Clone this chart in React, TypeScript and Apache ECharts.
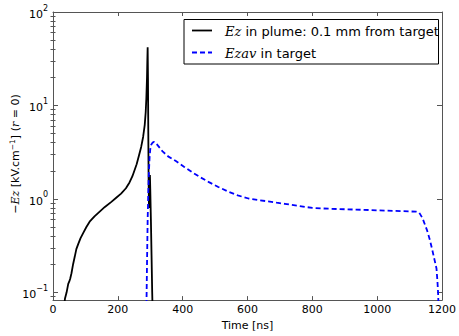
import React, { useEffect, useRef } from "react";
import * as echarts from "echarts";

// ---- Data ----
const xTicks = [0, 200, 400, 600, 800, 1000, 1200];
const yTickExponents = [-1, 0, 1, 2];

// Ez in plume: 0.1 mm from target (time [ns], -Ez [kV/cm])
const plumeTime = [33, 37, 42, 47, 50, 53, 57, 62, 67, 72, 78, 85, 93, 103, 113, 128, 144, 160, 180, 195, 210, 225, 236, 245, 251, 258, 265, 272, 278, 283, 286, 288, 290, 291, 292, 293, 294, 295, 296, 297, 298, 299, 300, 302, 304, 306, 308];
const plumeEz = [0.065, 0.086, 0.1, 0.123, 0.13, 0.14, 0.16, 0.2, 0.24, 0.29, 0.33, 0.38, 0.43, 0.5, 0.57, 0.65, 0.73, 0.82, 0.93, 1.03, 1.14, 1.3, 1.5, 1.75, 2.0, 2.35, 2.9, 3.6, 4.6, 6.2, 8.5, 12, 20, 30, 42, 20, 5, 1.5, 0.85, 0.8, 1.2, 1.8, 1.3, 0.6, 0.25, 0.1, 0.05];

// Ezav in target
const targetTime = [288, 290, 292, 294, 296, 298, 300, 303, 307, 312, 320, 338, 355, 379, 405, 430, 455, 481, 510, 542, 570, 603, 635, 664, 690, 715, 760, 800, 850, 900, 950, 1000, 1050, 1100, 1120, 1130, 1140, 1154, 1162, 1169, 1176, 1183, 1186, 1188, 1190];
const targetEz = [0.06, 0.2, 0.6, 1.2, 2.0, 2.8, 3.4, 3.8, 4.0, 4.07, 3.85, 3.22, 2.85, 2.54, 2.2, 1.92, 1.7, 1.51, 1.34, 1.19, 1.09, 1.01, 0.97, 0.94, 0.91, 0.885, 0.84, 0.8, 0.785, 0.775, 0.765, 0.755, 0.745, 0.735, 0.73, 0.71, 0.62, 0.46, 0.37, 0.295, 0.23, 0.18, 0.13, 0.098, 0.06];

const Y_MIN_LOG = -1.083;
const Y_MAX_LOG = 2;

export default function App() {
  const ref = useRef<HTMLDivElement>(null);

  useEffect(() => {
    if (!ref.current) return;
    const chart = echarts.init(ref.current, undefined, { renderer: "svg" });

    const toLog = (t: number[], v: number[]) => t.map((x, i) => [x, Math.log10(v[i])]);
    const minorTicks: number[] = [];
    for (let n = -2; n <= 1; n++) {
      for (let k = 2; k <= 9; k++) {
        const l = Math.log10(k * Math.pow(10, n));
        if (l > Y_MIN_LOG && l < Y_MAX_LOG) minorTicks.push(l);
      }
    }
    const spine = { show: true, onZero: false, lineStyle: { color: "#555", width: 1 } };
    const font = "DejaVu Sans";
    const tickFs = 11;
    const grid = { left: 53, top: 12, width: 392, height: 298 };

    const xBase = {
      type: "value" as const,
      min: 0,
      max: 1200,
      interval: 200,
      splitLine: { show: false },
      axisLine: spine,
    };
    const yBase = {
      type: "value" as const,
      min: Y_MIN_LOG,
      max: Y_MAX_LOG,
      splitLine: { show: false },
    };

    const supLabel = (v: number) => {
      const e = Math.round(v);
      const s = e < 0 ? "\u2212" + Math.abs(e) : String(e);
      return "{b|10}{s|" + s + "}";
    };

    chart.setOption({
      animation: false,
      backgroundColor: "#ffffff",
      grid,
      xAxis: [
        {
          ...xBase,
          position: "bottom",
          axisTick: { show: true, inside: true, length: 4, lineStyle: { color: "#555" } },
          axisLabel: {
            show: true,
            color: "#000",
            fontFamily: font,
            fontSize: tickFs,
            margin: 4,
            customValues: xTicks,
            formatter: (v: number) => String(v),
          },
          name: "Time [ns]",
          nameLocation: "middle",
          nameGap: 18,
          nameTextStyle: { color: "#000", fontFamily: font, fontSize: tickFs },
        },
        {
          ...xBase,
          position: "top",
          axisTick: { show: true, inside: true, length: 4, lineStyle: { color: "#555" } },
          axisLabel: { show: false },
        },
      ],
      yAxis: [
        {
          ...yBase,
          position: "left",
          axisLine: spine,
          axisTick: { show: true, inside: true, length: 5, customValues: yTickExponents, lineStyle: { color: "#555" } },
          axisLabel: {
            show: true,
            customValues: yTickExponents,
            margin: 5,
            formatter: supLabel,
            rich: {
              b: { fontFamily: font, fontSize: tickFs, color: "#000", lineHeight: 16, verticalAlign: "bottom" },
              s: { fontFamily: font, fontSize: 8, color: "#000", lineHeight: 16, verticalAlign: "top", padding: [0, 0, 4, 0] },
            },
          },
        },
        {
          ...yBase,
          position: "left",
          axisLine: { show: false },
          axisTick: { show: true, inside: true, length: 2.5, customValues: minorTicks, lineStyle: { color: "#555" } },
          axisLabel: { show: false },
        },
        {
          ...yBase,
          position: "right",
          axisLine: spine,
          axisTick: { show: true, inside: true, length: 5, customValues: yTickExponents, lineStyle: { color: "#555" } },
          axisLabel: { show: false },
        },
        {
          ...yBase,
          position: "right",
          axisLine: { show: false },
          axisTick: { show: true, inside: true, length: 2.5, customValues: minorTicks, lineStyle: { color: "#555" } },
          axisLabel: { show: false },
        },
      ],
      series: [
        {
          type: "line",
          name: "Ez in plume",
          data: toLog(plumeTime, plumeEz),
          showSymbol: false,
          symbol: "none",
          smooth: false,
          clip: true,
          lineStyle: { color: "#000000", width: 1.8 },
          xAxisIndex: 0,
          yAxisIndex: 0,
        },
        {
          type: "line",
          name: "Ezav in target",
          data: toLog(targetTime, targetEz),
          showSymbol: false,
          symbol: "none",
          smooth: false,
          clip: true,
          lineStyle: { color: "#0000ff", width: 1.8, type: [5, 3] },
          xAxisIndex: 0,
          yAxisIndex: 0,
        },
      ],
      graphic: [
        {
          type: "text",
          x: 15,
          y: 154,
          rotation: Math.PI / 2,
          style: {
            text: "\u2212{i|Ez} [kV.cm{s|\u22121}] ({i|r} = 0)",
            fontFamily: font,
            fontSize: 11,
            fill: "#000",
            align: "center",
            verticalAlign: "middle",
            rich: {
              i: { fontFamily: "DejaVu Serif", fontStyle: "italic", fontSize: 11, fill: "#000" },
              s: { fontFamily: font, fontSize: 7.5, fill: "#000", verticalAlign: "top", padding: [0, 0, 5, 0] },
            },
          },
        },
        {
          type: "rect",
          shape: { x: 184, y: 19.5, width: 254.5, height: 44.5 },
          style: { fill: "#ffffff", stroke: "#000", lineWidth: 1 },
          z: 10,
        },
        {
          type: "line",
          shape: { x1: 192, y1: 30.5, x2: 212, y2: 30.5 },
          style: { stroke: "#000", lineWidth: 1.8 },
          z: 11,
        },
        {
          type: "line",
          shape: { x1: 192, y1: 52.5, x2: 212, y2: 52.5 },
          style: { stroke: "#0000ff", lineWidth: 1.8, lineDash: [5, 3] },
          z: 11,
        },
        {
          type: "text",
          x: 225,
          y: 31,
          z: 11,
          style: {
            text: "{i|Ez} in plume: 0.1 mm from target",
            fontFamily: font,
            fontSize: 13,
            fill: "#000",
            verticalAlign: "middle",
            rich: { i: { fontFamily: "DejaVu Serif", fontStyle: "italic", fontSize: 13, fill: "#000" } },
          },
        },
        {
          type: "text",
          x: 225,
          y: 53,
          z: 11,
          style: {
            text: "{i|Ezav} in target",
            fontFamily: font,
            fontSize: 13,
            fill: "#000",
            verticalAlign: "middle",
            rich: { i: { fontFamily: "DejaVu Serif", fontStyle: "italic", fontSize: 13, fill: "#000" } },
          },
        },
      ],
    });

    return () => chart.dispose();
  }, []);

  return (
    <div
      ref={ref}
      style={{ position: "fixed", left: 0, top: 0, width: 459, height: 336, background: "#fff" }}
    />
  );
}
